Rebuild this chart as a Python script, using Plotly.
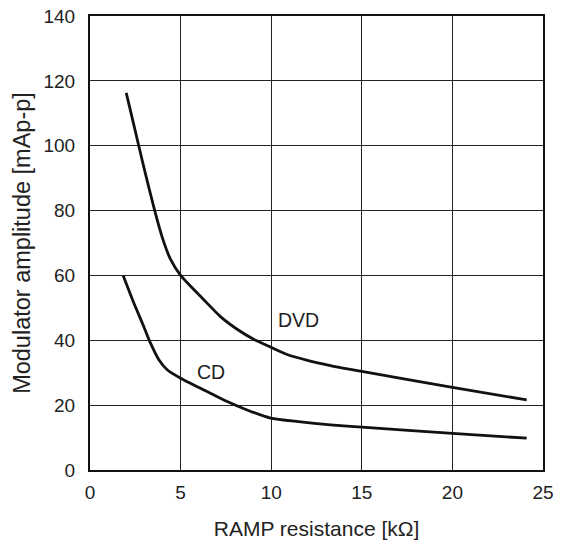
import plotly.graph_objects as go

dvd_x = [2.0, 2.5, 2.97, 3.56, 4.0, 4.44, 5.0, 6.28, 7.2, 8.12, 9.03, 9.96, 10.88, 12.0, 13.27, 15.0, 20.0, 24.1]
dvd_y = [116.3, 104.5, 93.4, 80.2, 71.5, 65.0, 60.0, 52.5, 47.3, 43.4, 40.3, 37.9, 35.6, 33.8, 32.2, 30.4, 25.5, 21.6]

cd_x = [1.83, 2.42, 2.97, 3.34, 3.8, 4.26, 5.0, 6.1, 7.57, 8.67, 9.96, 11.5, 13.27, 15.0, 20.0, 24.1]
cd_y = [60.0, 51.5, 44.2, 39.1, 34.0, 30.9, 28.3, 25.2, 21.1, 18.5, 16.0, 14.9, 13.9, 13.2, 11.3, 9.8]

labels = ["DVD", "CD"]
label_x = [11.5, 6.7]
label_y = [46.3, 30.3]

x_ticks = [0, 5, 10, 15, 20, 25]
y_ticks = [0, 20, 40, 60, 80, 100, 120, 140]

font_family = "Liberation Sans, Arial, sans-serif"
text_color = "#222222"

fig = go.Figure()
for xs, ys in [(dvd_x, dvd_y), (cd_x, cd_y)]:
    fig.add_trace(go.Scatter(
        x=xs, y=ys, mode="lines",
        line=dict(color="#111111", width=2.8, shape="spline", smoothing=0.6),
        showlegend=False, hoverinfo="skip",
    ))

for t, lx, ly in zip(labels, label_x, label_y):
    fig.add_annotation(x=lx, y=ly, text=t, showarrow=False,
                       font=dict(family=font_family, size=19.5, color=text_color))

fig.update_xaxes(
    range=[0, 25], tickvals=x_ticks, ticktext=[str(v) for v in x_ticks],
    showgrid=True, gridcolor="#222222", gridwidth=1,
    showline=True, linecolor="#111111", linewidth=2, mirror=True,
    zeroline=False, ticks="outside", ticklen=4, tickcolor="rgba(0,0,0,0)",
    automargin=False,
    tickfont=dict(family=font_family, size=19, color=text_color),
    title=dict(text="RAMP resistance [kΩ]", standoff=20,
               font=dict(family=font_family, size=21, color=text_color)),
)
fig.update_yaxes(
    range=[0, 140], tickvals=y_ticks, ticktext=[str(v) for v in y_ticks],
    showgrid=True, gridcolor="#222222", gridwidth=1,
    showline=True, linecolor="#111111", linewidth=2, mirror=True,
    zeroline=False, ticks="outside", ticklen=9, tickcolor="rgba(0,0,0,0)",
    automargin=False,
    tickfont=dict(family=font_family, size=19, color=text_color),
    title=dict(text="Modulator amplitude [mAp-p]", standoff=6,
               font=dict(family=font_family, size=23.5, color=text_color)),
)

fig.update_layout(
    width=565, height=546,
    margin=dict(l=90, r=22, t=16, b=76),
    plot_bgcolor="white", paper_bgcolor="white",
)

fig.write_html("out.html", config={"displayModeBar": False},
               post_script="document.body.style.margin='0px';")
